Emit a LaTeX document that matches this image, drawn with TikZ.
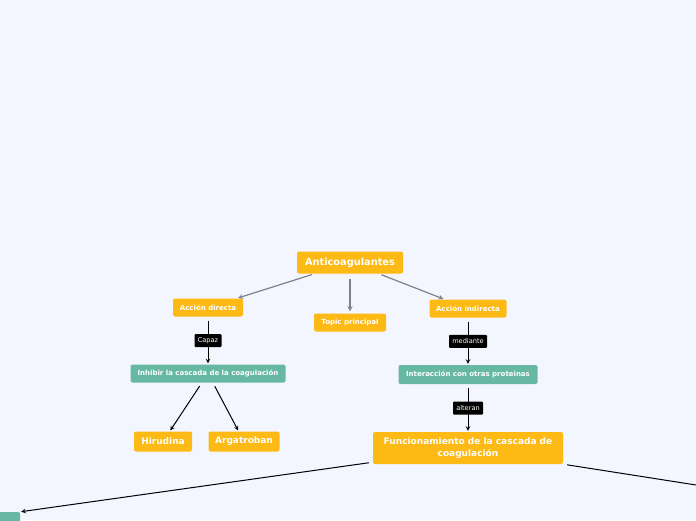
\documentclass[tikz,border=0pt]{standalone}
\usepackage{fontspec}
\setmainfont{DejaVu Sans}
\definecolor{mapbg}{RGB}{243,246,254}
\definecolor{maporange}{RGB}{253,185,20}
\definecolor{mapteal}{RGB}{103,184,163}
\definecolor{mapgray}{RGB}{128,128,136}
\usepackage{tikz}

\begin{document}
\begin{tikzpicture}[x=1pt,y=-1pt]

%
% Styles
%
\tikzstyle{main}    = [rounded corners=2pt,fill=maporange,text=white,font=\bfseries\fontsize{9.8}{11}\selectfont, inner sep=0pt]
\tikzstyle{topic}   = [rounded corners=2pt,fill=maporange,text=white,font=\bfseries\fontsize{7}{8}\selectfont, inner sep=0pt]
\tikzstyle{leaf}    = [rounded corners=2pt,fill=maporange,text=white,font=\bfseries\fontsize{9}{10}\selectfont, inner sep=0pt]
\tikzstyle{sub}     = [rounded corners=2pt,fill=mapteal,text=white,font=\bfseries\fontsize{7}{8}\selectfont, inner sep=0pt]
\tikzstyle{linklbl} = [rounded corners=1pt,fill=black,text=white,font=\fontsize{6.6}{7}\selectfont, inner sep=0pt, minimum height=13pt]

\tikzstyle{grayedge} = [->,>=stealth,draw=mapgray,line width=1.2pt]
\tikzstyle{edge}     = [->,>=stealth,draw=black,line width=1pt]

\fill[mapbg] (0,0) rectangle (696,520);
\clip (0,0) rectangle (696,520);

\node[main,minimum width=106pt,minimum height=22pt]  (anti) at (350,262.5)  {Anticoagulantes};
\node[topic,minimum width=70pt,minimum height=18pt]  (dir)  at (208,307.5)  {Acción directa};
\node[topic,minimum width=72pt,minimum height=18pt]  (tp)   at (350,322.5)  {Topic principal};
\node[topic,minimum width=77pt,minimum height=18pt]  (ind)  at (468,308.5)  {Acción indirecta};
\node[sub,minimum width=155pt,minimum height=18pt]   (inh)  at (208,373.5)  {Inhibir la cascada de la coagulación};
\node[sub,minimum width=139pt,minimum height=19pt]   (inter) at (468,374.5) {Interacción con otras proteinas};
\node[leaf,minimum width=58pt,minimum height=20pt]   (hir)  at (163,441.5)  {Hirudina};
\node[leaf,minimum width=71pt,minimum height=20pt]   (arg)  at (244,441.5)  {Argatroban};
\node[leaf,minimum width=190pt,minimum height=32pt,align=center,font=\bfseries\fontsize{9}{12}\selectfont]
                                                     (func) at (468,448)  {Funcionamiento de la cascada de\\coagulación};
\node[sub,minimum width=40pt,minimum height=20pt]    (hid)  at (0,522)    {};
\coordinate (off) at (760,495);

\draw[grayedge,shorten <=3pt,shorten >=1pt] (anti) -- (dir);
\draw[grayedge,shorten <=5pt,shorten >=2pt] (anti) -- (tp);
\draw[grayedge,shorten <=3pt,shorten >=1pt] (anti) -- (ind);

\draw[edge,shorten <=4pt,shorten >=1pt] (dir) -- node[linklbl,minimum width=27pt] {Capaz} (inh);
\draw[edge,shorten <=4pt,shorten >=1pt] (ind) -- node[linklbl,minimum width=38pt] {mediante} (inter);
\draw[edge,shorten <=4pt,shorten >=1pt] (inter) -- node[linklbl,minimum width=30pt] {alteran} (func);

\draw[edge,shorten <=4pt,shorten >=1pt] (inh) -- (hir);
\draw[edge,shorten <=4pt,shorten >=1pt] (inh) -- (arg);

\draw[edge,shorten <=4pt,shorten >=1pt] (func.south west) ++(0,-2) -- (hid.north east);
\draw[edge,shorten <=4pt] (func.south east) ++(0,0) -- (off);

\end{tikzpicture}
\end{document}
